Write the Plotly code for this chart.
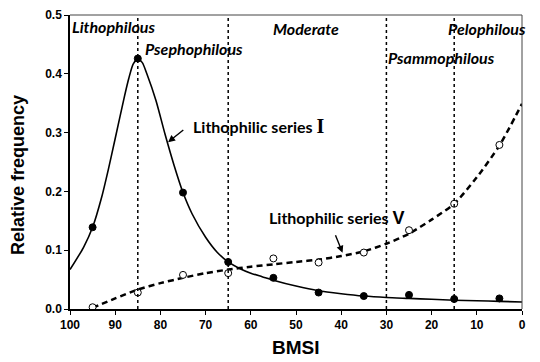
import plotly.graph_objects as go

# ---- data ----
bmsi = [95, 85, 75, 65, 55, 45, 35, 25, 15, 5]
series_I = [0.139, 0.426, 0.198, 0.080, 0.053, 0.028, 0.022, 0.024, 0.017, 0.018]
series_V = [0.003, 0.028, 0.058, 0.061, 0.086, 0.079, 0.096, 0.134, 0.179, 0.279]

# fitted curves
curve_I_x = [100, 97, 95, 93, 91.5, 90, 88, 87, 86, 85, 84, 83, 81, 79, 77, 75, 73, 70, 67.5, 65, 62.5, 60, 57.5, 55, 50, 45, 40, 35, 30, 25, 20, 15, 10, 5, 0]
curve_I_y = [0.067, 0.105, 0.139, 0.19, 0.238, 0.29, 0.36, 0.392, 0.417, 0.425, 0.419, 0.40, 0.355, 0.298, 0.245, 0.198, 0.162, 0.122, 0.097, 0.080, 0.069, 0.061, 0.055, 0.049, 0.039, 0.031, 0.026, 0.022, 0.0195, 0.018, 0.0165, 0.015, 0.014, 0.013, 0.012]
curve_V_x = [95, 90, 85, 80, 75, 70, 65, 60, 55, 50, 45, 40, 35, 30, 25, 20, 15, 10, 5, 0]
curve_V_y = [0.002, 0.018, 0.033, 0.044, 0.053, 0.061, 0.067, 0.072, 0.076, 0.080, 0.084, 0.090, 0.098, 0.111, 0.128, 0.152, 0.179, 0.224, 0.278, 0.349]

boundaries = [85, 65, 30, 15]
x_ticks = [100, 90, 80, 70, 60, 50, 40, 30, 20, 10, 0]
y_ticks = [0.0, 0.1, 0.2, 0.3, 0.4, 0.5]

zone_labels = ["Lithophilous", "Psephophilous", "Moderate", "Pelophilous", "Psammophilous"]
x_title = "BMSI"
y_title = "Relative frequency"

fig = go.Figure()

fig.add_trace(go.Scatter(x=curve_I_x, y=curve_I_y, mode="lines", line=dict(color="black", width=1.6, shape="spline", smoothing=0.7), hoverinfo="skip", showlegend=False))
fig.add_trace(go.Scatter(x=curve_V_x, y=curve_V_y, mode="lines", line=dict(color="black", width=2.5, dash="6px,4px", shape="spline", smoothing=0.7), hoverinfo="skip", showlegend=False))
fig.add_trace(go.Scatter(x=bmsi, y=series_I, mode="markers", marker=dict(color="black", size=7, line=dict(color="black", width=1)), showlegend=False))
fig.add_trace(go.Scatter(x=bmsi, y=series_V, mode="markers", marker=dict(color="white", size=7, line=dict(color="black", width=1)), showlegend=False))

for b in boundaries:
    fig.add_shape(type="line", x0=b, x1=b, y0=0, y1=0.5, xref="x", yref="y", line=dict(color="black", width=1.5, dash="dot"))

# top and right border
fig.add_shape(type="line", xref="paper", yref="paper", x0=0, x1=1, y0=1, y1=1, line=dict(color="#444", width=1))
fig.add_shape(type="line", xref="paper", yref="paper", x0=1, x1=1, y0=0, y1=1, line=dict(color="#444", width=1))

ital = dict(family="Lato", size=16, color="black")
zone_pos = [(100, 0.481), (83.9, 0.443), (55.6, 0.4775), (16.9, 0.4775), (30.1, 0.428)]
for lab, (xx, yy) in zip(zone_labels, zone_pos):
    fig.add_annotation(x=xx, y=yy, xref="x", yref="y", text="<b><i>%s</i></b>" % lab, showarrow=False, xanchor="left", yanchor="middle", font=ital)

ser = dict(family="Lato", size=16, color="black")
fig.add_annotation(x=73.3, y=0.3116, xref="x", yref="y", text="<b>Lithophilic series </b><span style='font-family:Liberation Serif;font-size:20px'><b>I</b></span>", showarrow=False, xanchor="left", yanchor="middle", font=ser)
fig.add_annotation(x=56.5, y=0.1544, xref="x", yref="y", text="<b>Lithophilic series </b><span style='font-family:Liberation Sans;font-size:18px'><b>V</b></span>", showarrow=False, xanchor="left", yanchor="middle", font=ser)

fig.add_annotation(x=78.3, y=0.2838, ax=74.6, ay=0.3065, xref="x", yref="y", axref="x", ayref="y", text="", showarrow=True, arrowhead=2, arrowsize=1, arrowwidth=1.4, arrowcolor="black")
fig.add_annotation(x=39.7, y=0.0957, ax=41.4, ay=0.128, xref="x", yref="y", axref="x", ayref="y", text="", showarrow=True, arrowhead=2, arrowsize=1, arrowwidth=1.4, arrowcolor="black")

# axis titles as annotations for exact placement
fig.add_annotation(x=0.5, y=0, xref="paper", yref="paper", text="<b>%s</b>" % x_title, showarrow=False, xanchor="center", yanchor="middle", yshift=-38,
                   font=dict(family="Liberation Sans", size=19, color="black"))
fig.add_annotation(x=0, y=0.5, xref="paper", yref="paper", text="<b>%s</b>" % y_title, showarrow=False, xanchor="center", yanchor="middle", textangle=-90,
                   xshift=-52, yshift=-13, font=dict(family="Liberation Sans", size=18, color="black"))

tickfont = dict(family="Liberation Sans", size=12, color="black", weight="bold")
fig.update_xaxes(range=[100, 0], tickvals=x_ticks, ticktext=[str(v) for v in x_ticks], ticks="outside", ticklen=4, tickcolor="black",
                 showline=True, linecolor="black", linewidth=1.5, showgrid=False, zeroline=False, tickfont=tickfont, automargin=False)
fig.update_yaxes(range=[0, 0.5], tickvals=y_ticks, ticktext=["%.1f" % v for v in y_ticks], ticks="outside", ticklen=4, tickcolor="black",
                 showline=True, linecolor="black", linewidth=1.5, showgrid=False, zeroline=False, tickfont=tickfont, automargin=False)

fig.update_layout(width=540, height=362, margin=dict(l=70, r=17.5, t=15, b=52.5), plot_bgcolor="white", paper_bgcolor="white")

fig.write_html("out.html", config={"displayModeBar": False},
               post_script="document.body.style.margin='0';document.body.style.overflow='hidden';")
